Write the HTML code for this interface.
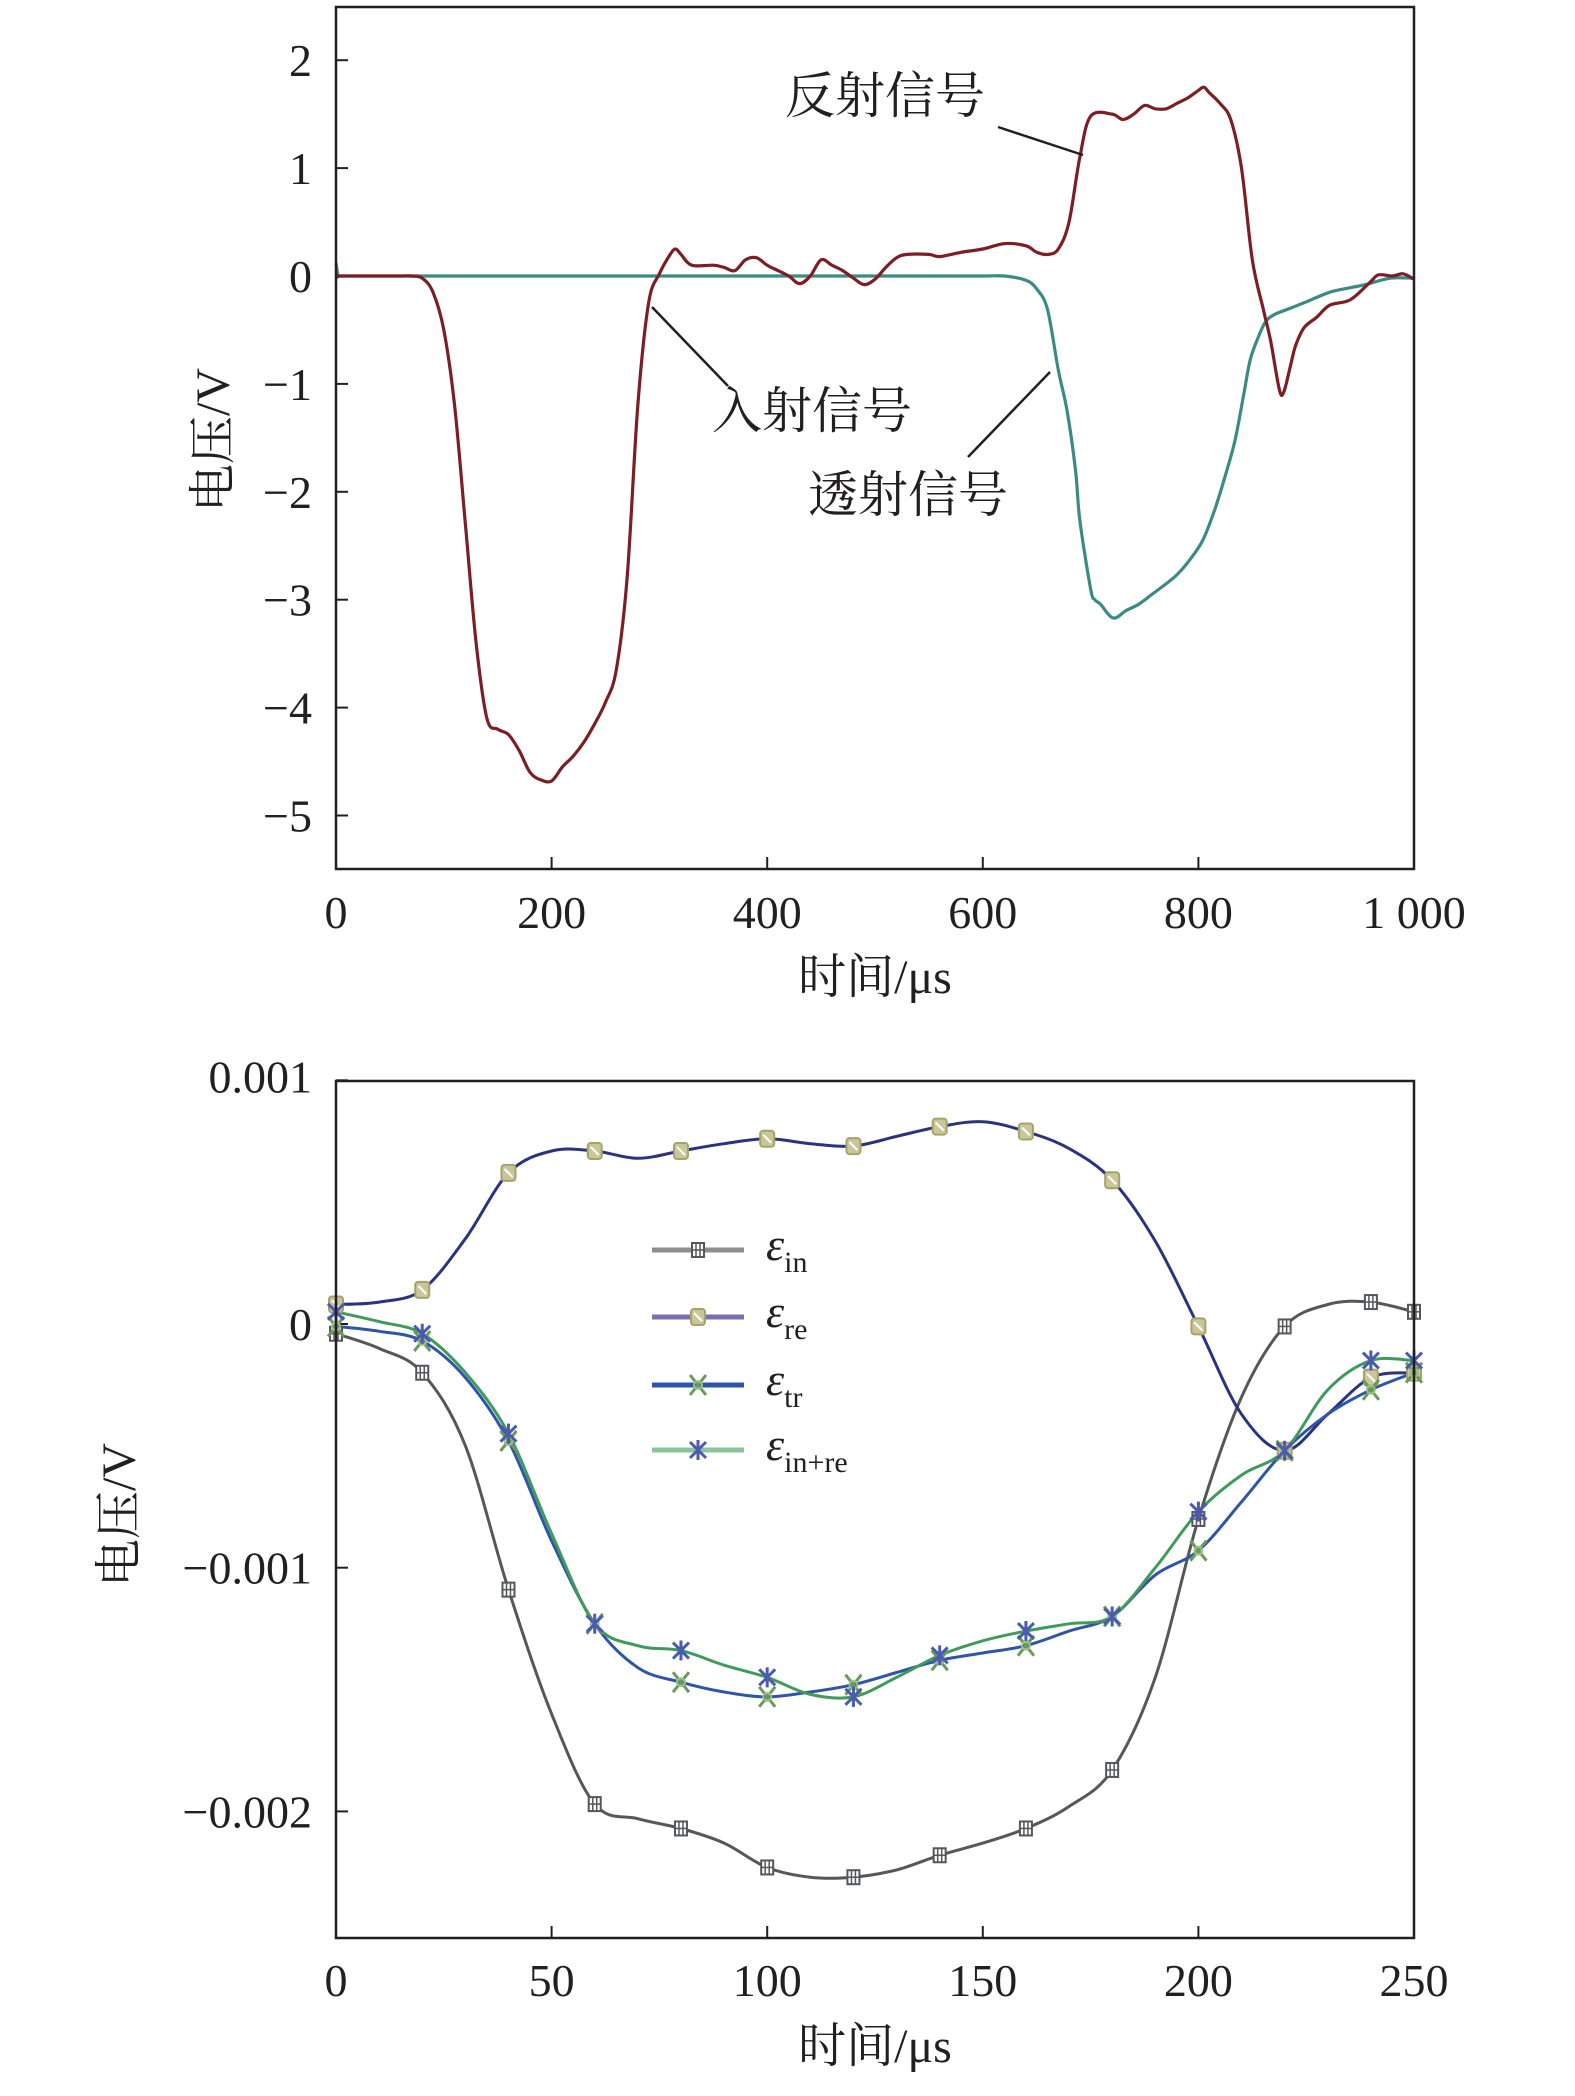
<!DOCTYPE html>
<html><head><meta charset="utf-8"><style>
html,body{margin:0;padding:0;background:#fff;}
svg{display:block;}
text{font-family:"Liberation Serif","Noto Serif CJK SC",serif;fill:#231f20;}
</style></head><body>
<svg id="fig" width="1575" height="2096" viewBox="0 0 1575 2096" xmlns="http://www.w3.org/2000/svg">
<g id="topchart"></g>
<g id="botchart"></g>
</svg>
<script>
// ---------- Top chart data ----------
const topTimes = [0,20,40,60,70,80,90,100,110,120,130,140,150,160,170,180,190,200,210,220,230,240,250,260,270,280,290,300,310,315,320,330,350,360,370,380,390,400,410,420,430,440,450,460,470,480,490,500,510,520,530,550,560,580,600,620,640,650,660,670,680,690,700,720,730,740,750,760,770,780,790,800,805,810,820,830,840,850,860,867,875,879,885,890,898,910,922,941,959,967,980,990,1000];
const reflectedSignal = [0,0,0,0,0,-0.02,-0.15,-0.5,-1.2,-2.3,-3.4,-4.1,-4.2,-4.25,-4.4,-4.6,-4.67,-4.68,-4.55,-4.45,-4.32,-4.15,-3.95,-3.65,-2.8,-1.2,-0.25,0.02,0.2,0.25,0.2,0.1,0.1,0.08,0.05,0.15,0.17,0.1,0.05,0,-0.07,0,0.15,0.1,0.05,-0.02,-0.08,-0.03,0.08,0.17,0.2,0.2,0.18,0.22,0.25,0.3,0.28,0.22,0.2,0.25,0.5,1.1,1.48,1.5,1.45,1.5,1.58,1.55,1.55,1.6,1.65,1.72,1.75,1.7,1.6,1.45,1.0,0.15,-0.3,-0.6,-1.05,-1.08,-0.85,-0.65,-0.48,-0.38,-0.27,-0.22,-0.06,0.01,0,0.02,-0.03];
const transTimes = [0,2,5,50,100,150,200,250,300,350,400,450,500,550,600,620,640,650,660,670,678,686,690,700,704,709,721,733,745,757,769,780,792,804,815,825,834,842,848,855,862,870,885,900,922,940,955,978,1000];
const transmittedSignal = [0.12,0,0,0,0,0,0,0,0,0,0,0,0,0,0,0,-0.04,-0.12,-0.31,-0.87,-1.24,-1.8,-2.26,-2.9,-3.0,-3.04,-3.17,-3.1,-3.04,-2.95,-2.86,-2.77,-2.63,-2.45,-2.17,-1.85,-1.52,-1.1,-0.78,-0.58,-0.43,-0.36,-0.3,-0.24,-0.15,-0.11,-0.08,-0.02,-0.02];
const topXTicks = [0,200,400,600,800,1000];
const topXTickLabels = ["0","200","400","600","800","1 000"];
const topYTicks = [2,1,0,-1,-2,-3,-4,-5];
const topYTickLabels = ["2","1","0","\u22121","\u22122","\u22123","\u22124","\u22125"];

// ---------- Bottom chart data (values in units of 0.001) ----------
const botTimes = [0,10,20,30,40,50,60,70,80,90,100,110,120,130,140,150,160,170,180,190,200,210,220,230,240,250];
const strainIn = [-0.04,-0.1,-0.2,-0.5,-1.09,-1.6,-1.97,-2.03,-2.07,-2.13,-2.23,-2.27,-2.27,-2.24,-2.18,-2.13,-2.07,-1.98,-1.83,-1.45,-0.8,-0.3,-0.01,0.08,0.09,0.05];
const strainRe = [0.08,0.09,0.14,0.35,0.62,0.71,0.71,0.68,0.71,0.74,0.76,0.74,0.73,0.77,0.81,0.83,0.79,0.72,0.59,0.34,-0.01,-0.37,-0.52,-0.37,-0.22,-0.2];
const strainTr = [-0.01,-0.03,-0.07,-0.22,-0.48,-0.89,-1.23,-1.41,-1.47,-1.51,-1.53,-1.51,-1.48,-1.43,-1.38,-1.35,-1.32,-1.26,-1.2,-1.03,-0.93,-0.73,-0.52,-0.37,-0.27,-0.2];
const strainInRe = [0.05,0.01,-0.04,-0.2,-0.45,-0.86,-1.23,-1.32,-1.34,-1.4,-1.45,-1.52,-1.53,-1.45,-1.36,-1.3,-1.26,-1.23,-1.2,-1.0,-0.77,-0.62,-0.52,-0.27,-0.15,-0.15];
const markerTimes = [0,20,40,60,80,100,120,140,160,180,200,220,240,250];
const botXTicks = [0,50,100,150,200,250];
const botXTickLabels = ["0","50","100","150","200","250"];
const botYTicks = [1,0,-1,-2];
const botYTickLabels = ["0.001","0","\u22120.001","\u22120.002"];

const NS="http://www.w3.org/2000/svg";
function mk(parent,tag,attrs,txt){const e=document.createElementNS(NS,tag);for(const k in attrs)e.setAttribute(k,attrs[k]);if(txt!==undefined)e.textContent=txt;parent.appendChild(e);return e;}
function smoothPath(pts){
  let d="M"+pts[0][0].toFixed(1)+","+pts[0][1].toFixed(1);
  for(let i=0;i<pts.length-1;i++){
    const p0=pts[i-1]||pts[i],p1=pts[i],p2=pts[i+1],p3=pts[i+2]||p2;
    const c1=[p1[0]+(p2[0]-p0[0])/6,p1[1]+(p2[1]-p0[1])/6];
    const c2=[p2[0]-(p3[0]-p1[0])/6,p2[1]-(p3[1]-p1[1])/6];
    d+="C"+c1[0].toFixed(1)+","+c1[1].toFixed(1)+" "+c2[0].toFixed(1)+","+c2[1].toFixed(1)+" "+p2[0].toFixed(1)+","+p2[1].toFixed(1);
  }
  return d;
}
function interp(xs,ys,x){for(let i=0;i<xs.length-1;i++){if(x>=xs[i]&&x<=xs[i+1]){const t=(x-xs[i])/(xs[i+1]-xs[i]);return ys[i]+t*(ys[i+1]-ys[i]);}}return ys[ys.length-1];}

// ================= TOP CHART =================
const topG=document.getElementById('topchart');
const PL=336,PR=1414;
const tx=v=>PL+(v/1000)*(PR-PL);
const ty=v=>276-v*107.9;
const tFrameTop=7,tFrameBot=869;
topXTicks.forEach((v,i)=>{
  const t=mk(topG,'line',{x1:tx(v),x2:tx(v),y1:tFrameBot,y2:tFrameBot-12,stroke:'#231f20','stroke-width':2});
  
  
  const l=mk(topG,'text',{x:tx(v),y:928,'font-size':46,'text-anchor':'middle'},topXTickLabels[i]);
  
  
});
topYTicks.forEach((v,i)=>{
  const t=mk(topG,'line',{x1:PL,x2:PL+12,y1:ty(v),y2:ty(v),stroke:'#231f20','stroke-width':2});
  
  
  const l=mk(topG,'text',{x:312,y:ty(v)+16,'font-size':46,'text-anchor':'end'},topYTickLabels[i]);
  
  
});
{
const p=mk(topG,'path',{d:smoothPath(transTimes.map((t,i)=>[tx(t),ty(transmittedSignal[i])])),fill:'none',stroke:'#3c8a86','stroke-width':3.2});


const q=mk(topG,'path',{d:smoothPath(topTimes.map((t,i)=>[tx(t),ty(reflectedSignal[i])])),fill:'none',stroke:'#7b1f24','stroke-width':3.2});


}
{const f=mk(topG,'rect',{x:PL,y:tFrameTop,width:PR-PL,height:tFrameBot-tFrameTop,fill:'none',stroke:'#231f20','stroke-width':2.5});

}
function annot(parent,txt,x,y,x1,y1,x2,y2,name){
  const ln=mk(parent,'line',{x1:x1,y1:y1,x2:x2,y2:y2,stroke:'#231f20','stroke-width':2.5});
  
  
  const t=mk(parent,'text',{x:x,y:y,'font-size':50},txt);
  
  
}
annot(topG,'反射信号',785,113,998,127,1083,155,'reflected-signal');
annot(topG,'入射信号',712,428,652,307,728,386,'incident-signal');
annot(topG,'透射信号',808,512,968,457,1050,372,'transmitted-signal');
{const t=mk(topG,'text',{x:875,y:993,'font-size':48,'text-anchor':'middle'},'时间/μs');


const y=mk(topG,'text',{x:0,y:0,'font-size':48,'text-anchor':'middle',transform:'translate(229,440) rotate(-90)'},'电压/V');

}

// ================= BOTTOM CHART =================
const botG=document.getElementById('botchart');
const bx=v=>PL+(v/250)*(PR-PL);
const by=v=>1324-v*243.7;
const bTop=1081,bBot=1938;
botXTicks.forEach((v,i)=>{
  const t=mk(botG,'line',{x1:bx(v),x2:bx(v),y1:bBot,y2:bBot-12,stroke:'#231f20','stroke-width':2});
  
  
  const l=mk(botG,'text',{x:bx(v),y:1996,'font-size':46,'text-anchor':'middle'},botXTickLabels[i]);
  
  
});
botYTicks.forEach((v,i)=>{
  const t=mk(botG,'line',{x1:PL,x2:PL+12,y1:by(v),y2:by(v),stroke:'#231f20','stroke-width':2});
  
  
  const l=mk(botG,'text',{x:312,y:by(v)+(i==0?12:16),'font-size':46,'text-anchor':'end'},botYTickLabels[i]);
  
  
});
function marker(parent,type,x,y,color){
  const g=mk(parent,'g',{});
  if(type==='sq'){mk(g,'rect',{x:x-6,y:y-7,width:12,height:14,fill:'#fff',stroke:color,'stroke-width':2});mk(g,'line',{x1:x-2,x2:x-2,y1:y-7,y2:y+7,stroke:color,'stroke-width':1.5});mk(g,'line',{x1:x+2,x2:x+2,y1:y-7,y2:y+7,stroke:color,'stroke-width':1.5});mk(g,'line',{x1:x-6,x2:x+6,y1:y,y2:y,stroke:color,'stroke-width':1.5});}
  else if(type==='ci'){mk(g,'rect',{x:x-7,y:y-8,width:14,height:16,rx:3,fill:'#c9c79a',stroke:'#a6a36a','stroke-width':2});mk(g,'line',{x1:x-4,x2:x+4,y1:y-4,y2:y+4,stroke:'#fff','stroke-width':2});}
  else if(type==='x'){mk(g,'path',{d:`M${x-8},${y-10}L${x+8},${y+10}M${x+8},${y-10}L${x-8},${y+10}`,stroke:'#6a9a5a','stroke-width':3,fill:'none'});mk(g,'circle',{cx:x,cy:y,r:4,fill:'none',stroke:'#9dbf8a','stroke-width':2});}
  else {mk(g,'path',{d:`M${x-8},${y-8}L${x+8},${y+8}M${x+8},${y-8}L${x-8},${y+8}M${x},${y-10}L${x},${y+10}`,stroke:'#4a5aae','stroke-width':3,fill:'none'});}
  return g;
}
const botSeries=[
  {vals:strainIn,color:'#55575a',mk:'sq',name:'strain-incident'},
  {vals:strainRe,color:'#2a3380',mk:'ci',name:'strain-reflected'},
  {vals:strainTr,color:'#2f55a8',mk:'x',name:'strain-transmitted'},
  {vals:strainInRe,color:'#3f9a5c',mk:'st',name:'strain-incident-plus-reflected'}
];
botSeries.forEach(s=>{
  const p=mk(botG,'path',{d:smoothPath(botTimes.map((t,i)=>[bx(t),by(s.vals[i])])),fill:'none',stroke:s.color,'stroke-width':3});
  
  
});
botSeries.forEach(s=>{
  markerTimes.forEach(t=>{
    const m=marker(botG,s.mk,bx(t),by(interp(botTimes,s.vals,t)),s.color);
    
    
  });
});
{const f=mk(botG,'rect',{x:PL,y:bTop,width:PR-PL,height:bBot-bTop,fill:'none',stroke:'#231f20','stroke-width':2.5});

}
const legY=[1250,1317,1385,1450];
const legSubs=['in','re','tr','in+re'];
const legLine=['#8f8e8e','#7a70b0','#2f55a8','#8cc49c'];
botSeries.forEach((s,i)=>{
  const g=mk(botG,'g',{});
  
  
  mk(g,'line',{x1:652,x2:744,y1:legY[i],y2:legY[i],stroke:legLine[i],'stroke-width':5});
  marker(g,s.mk,698,legY[i],s.color);
  const t=mk(g,'text',{x:766,y:legY[i]+10,'font-size':46,'font-style':'italic'},'ε');
  mk(t,'tspan',{'font-size':30,'font-style':'normal',dy:12},legSubs[i]);
});
{const t=mk(botG,'text',{x:875,y:2062,'font-size':48,'text-anchor':'middle'},'时间/μs');


const y=mk(botG,'text',{x:0,y:0,'font-size':48,'text-anchor':'middle',transform:'translate(135,1515) rotate(-90)'},'电压/V');

}
</script>
</body></html>
